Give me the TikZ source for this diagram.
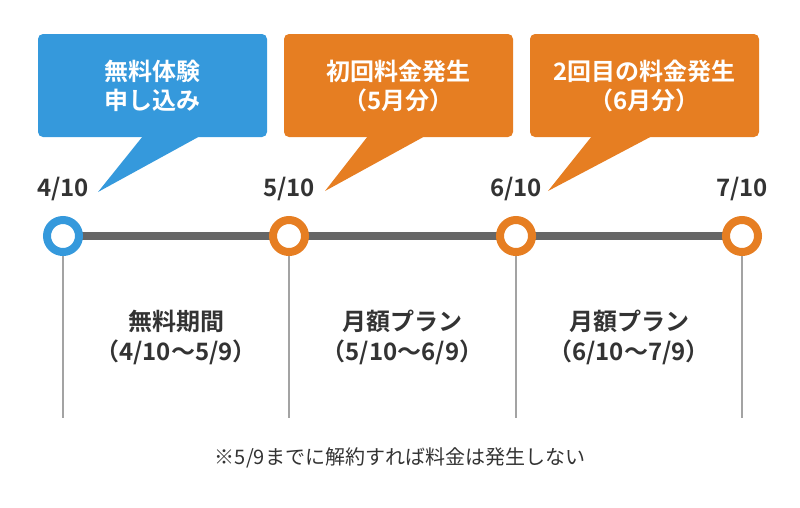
\documentclass[tikz,border=0pt]{standalone}
\usepackage{fontspec}
\setmainfont{Noto Sans CJK JP}[BoldFont={Noto Sans CJK JP Bold}]
\usetikzlibrary{backgrounds}
\definecolor{planblue}{HTML}{3599DC}
\definecolor{planorange}{HTML}{E67E22}
\definecolor{bargray}{HTML}{666666}
\definecolor{tickgray}{HTML}{A3A3A3}
\definecolor{textdark}{HTML}{333333}
\tikzset{
  callout/.style={fill=#1, rounded corners=5pt, minimum width=229pt, minimum height=103pt,
    align=center, text=white, font=\fontsize{24}{29}\selectfont\bfseries},
  daydot/.style={circle, draw=#1, fill=white, line width=8pt, minimum size=32pt, inner sep=0pt},
  daylabel/.style={text=textdark, font=\fontsize{24}{26}\selectfont\bfseries},
  period/.style={text=textdark, align=center, font=\fontsize{24}{30}\selectfont\bfseries},
}
\begin{document}
\begin{tikzpicture}[x=1pt, y=-1pt]
    \useasboundingbox (0,0) rectangle (800,507);
    % timeline
    \node (d1) at (63,236) [daydot=planblue] {};
    \node (d2) at (289,236) [daydot=planorange] {};
    \node (d3) at (516,236) [daydot=planorange] {};
    \node (d4) at (742,236) [daydot=planorange] {};
    \begin{scope}[on background layer]
      \draw[bargray, line width=8pt] (d1.center) -- (d4.center);
    \end{scope}
    \node (l1) at (63,189) [daylabel] {4/10};
    \node (l2) at (289,189) [daylabel] {5/10};
    \node (l3) at (516,189) [daylabel] {6/10};
    \node (l4) at (742,189) [daylabel] {7/10};
    \coordinate (e1) at (63,418);
    \coordinate (e2) at (289,418);
    \coordinate (e3) at (516,418);
    \coordinate (e4) at (742,418);
    \draw[tickgray, line width=2pt] (d1.south) -- (e1);
    \draw[tickgray, line width=2pt] (d2.south) -- (e2);
    \draw[tickgray, line width=2pt] (d3.south) -- (e3);
    \draw[tickgray, line width=2pt] (d4.south) -- (e4);
    % callouts
    \node (b1) at (152.5,85.5) [callout=planblue] {無料体験\\申し込み};
    \node (b2) at (398.5,85.5) [callout=planorange] {初回料金発生\\（5月分）};
    \node (b3) at (644.5,85.5) [callout=planorange] {2回目の料金発生\\（6月分）};
    \coordinate (t1) at (98,192);
    \coordinate (t2) at (325,191);
    \coordinate (t3) at (548,191);
    \fill[planblue] ([xshift=105pt,yshift=1pt]b1.south west) -- ([xshift=162pt,yshift=1pt]b1.south west) -- (t1) -- cycle;
    \fill[planorange] ([xshift=84pt,yshift=1pt]b2.south west) -- ([xshift=141pt,yshift=1pt]b2.south west) -- (t2) -- cycle;
    \fill[planorange] ([xshift=62pt,yshift=1pt]b3.south west) -- ([xshift=122pt,yshift=1pt]b3.south west) -- (t3) -- cycle;
    % periods
    \node (p1) at (176,337) [period] {無料期間\\（4/10〜5/9）};
    \node (p2) at (402.5,337) [period] {月額プラン\\（5/10〜6/9）};
    \node (p3) at (629,337) [period] {月額プラン\\（6/10〜7/9）};
    \node (note) at (400,458) [text=textdark, font=\fontsize{20}{22}\selectfont] {※5/9までに解約すれば料金は発生しない};
\end{tikzpicture}
\end{document}
